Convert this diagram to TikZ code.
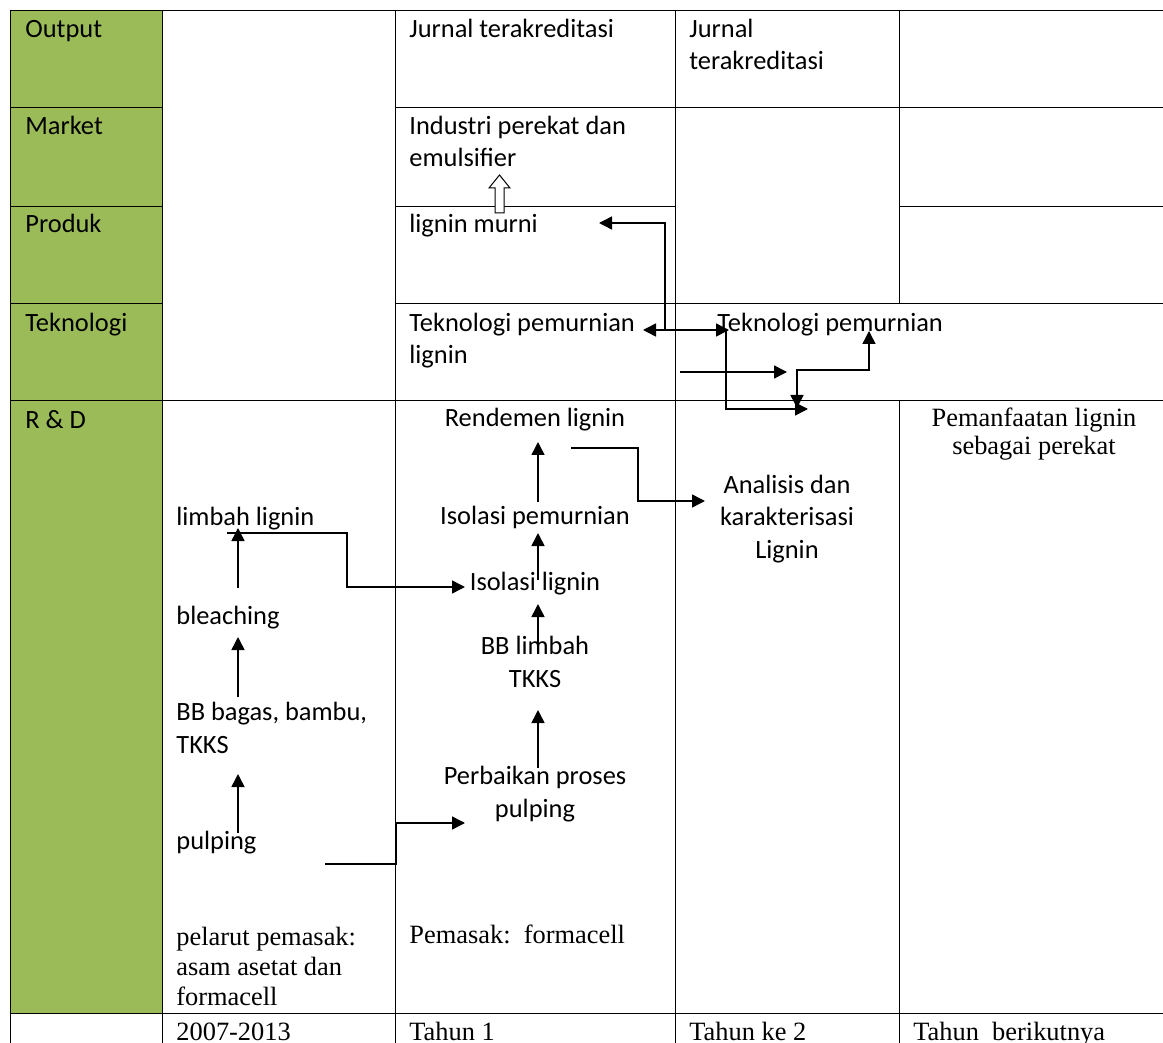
\documentclass[tikz,border=0pt]{standalone}
\usepackage{fontspec}
\setmainfont{Liberation Serif}
\newfontfamily\calibri{Carlito}
\usetikzlibrary{arrows.meta}
\definecolor{olive}{HTML}{9BBB59}

\begin{document}
\begin{tikzpicture}[x=0.5pt,y=-0.5pt,
  txt/.style={anchor=base west,inner sep=0pt,align=left,font=\calibri\fontsize{13.2}{16.1}\selectfont},
  ctxt/.style={txt,anchor=base,align=center},
  tms/.style={anchor=base west,inner sep=0pt,align=left,font=\fontsize{13.2}{15}\selectfont},
  rule/.style={line width=0.5pt},
  arr/.style={line width=0.75pt,-{Triangle[length=6.5pt,width=6.5pt]}},
  darr/.style={line width=0.75pt,{Triangle[length=6.5pt,width=6.5pt]}-{Triangle[length=6.5pt,width=6.5pt]}}]
\useasboundingbox (0,0) rectangle (1163,1043);
\clip (0,0) rectangle (1163,1043);
% The table
\fill[olive] (10,11) rectangle (162,1013);
\draw[rule] (10,11) -- (1163,11);
\draw[rule] (10,108) -- (162,108) (395,108) -- (1163,108);
\draw[rule] (10,207) -- (162,207) (395,207) -- (675,207) (899,207) -- (1163,207);
\draw[rule] (10,304) -- (162,304) (395,304) -- (1163,304);
\draw[rule] (10,401) -- (1163,401);
\draw[rule] (10,1013) -- (1163,1013);
\foreach \x in {10,162,395,675} \draw[rule] (\x,11) -- (\x,1043);
\draw[rule] (899,11) -- (899,304) (899,401) -- (899,1043);
% The green column
\node[txt] (out) at (25,38) {Output};
\node[txt] (mkt) at (25,135) {Market};
\node[txt] (prd) at (25,233) {Produk};
\node[txt] (tek) at (25,332) {Teknologi};
\node[txt] (rnd) at (25,429) {R \& D};
% Upper rows (multi-line nodes sit on their last line)
\node[txt] (jur1) at (409,38) {Jurnal terakreditasi};
\node[txt] (jur2) at (689,70) {Jurnal\\terakreditasi};
\node[txt] (ind) at (409,167) {Industri perekat dan\\emulsifier};
\node[txt] (murni) at (409,233) {lignin murni};
\node[txt] (tpl) at (409,364) {Teknologi pemurnian\\lignin};
\node[txt] (tp2) at (717,332) {Teknologi pemurnian};
% R & D row
%     2007-2013
\node[txt] (limbah) at (176,525) {limbah lignin};
\node[txt] (bleach) at (176,624) {bleaching};
\node[txt] (bagas) at (176,753) {BB bagas, bambu,\\TKKS};
\node[txt] (pulp) at (176,849) {pulping};
\node[tms] (pelarut) at (176,1005) {pelarut pemasak:\\asam asetat dan\\formacell};
%     Tahun 1
\node[ctxt] (rend) at (535,427) {Rendemen lignin};
\node[ctxt] (isop) at (535,524) {Isolasi pemurnian};
\node[ctxt] (isol) at (535,590) {Isolasi lignin};
\node[ctxt] (bbtk) at (535,687) {BB limbah\\TKKS};
\node[ctxt] (perb) at (535,817) {Perbaikan proses\\pulping};
\node[tms] (pemasak) at (409,943) {Pemasak:\ \ formacell};
%     Tahun ke 2 and later
\node[ctxt] (anal) at (787,558) {Analisis dan\\karakterisasi\\Lignin};
\node[tms,anchor=base,align=center,font=\fontsize{13.2}{14}\selectfont] (manf) at (1034,455) {Pemanfaatan lignin\\sebagai perekat};
% Bottom row
\node[tms] (y0) at (176,1040) {2007-2013};
\node[tms] (y1) at (409,1040) {Tahun 1};
\node[tms] (y2) at (689,1040) {Tahun ke 2};
\node[tms] (y3) at (913,1040) {Tahun\ \ berikutnya};
% Arrows
\coordinate (a1) at (238,588); \coordinate (b1) at (238,528);
\coordinate (a2) at (238,697); \coordinate (b2) at (238,637);
\coordinate (a3) at (238,833); \coordinate (b3) at (238,774);
\coordinate (a4) at (538,502); \coordinate (b4) at (538,442);
\coordinate (a5) at (538,580); \coordinate (b5) at (538,533);
\coordinate (a6) at (538,653); \coordinate (b6) at (538,604);
\coordinate (a7) at (538,768); \coordinate (b7) at (538,710);
\foreach \i in {1,...,7} \draw[arr] (a\i) -- (b\i);
\coordinate (l1) at (227,533); \coordinate (l2) at (347,587); \coordinate (l3) at (465,587);
\draw[arr] (l1) -| (l2) -- (l3);
\coordinate (p1) at (325,864); \coordinate (p2) at (396,823); \coordinate (p3) at (465,823);
\draw[arr] (p1) -| (p2) -- (p3);
\coordinate (r1) at (571,448); \coordinate (r2) at (638,501); \coordinate (r3) at (705,501);
\draw[arr] (r1) -| (r2) -- (r3);
%     around Teknologi pemurnian
\coordinate (t1) at (665,330); \coordinate (t2) at (599,223);
\draw[arr] (t1) |- (t2);
\coordinate (t3) at (643,330); \coordinate (t4) at (729,330);
\draw[darr] (t3) -- (t4);
\coordinate (t5) at (726,330); \coordinate (t6) at (808,409);
\draw[arr] (t5) |- (t6);
\coordinate (t7) at (680,372); \coordinate (t8) at (787,372);
\draw[arr] (t7) -- (t8);
\coordinate (t9) at (797,408); \coordinate (t10) at (869,331);
\draw[darr] (t9) |- (833,370) -| (t10);
% hollow arrow
\draw[line width=0.5pt,fill=white] (495,213) -- (495,188) -- (489,188) -- (499.5,175) -- (510,188) -- (504,188) -- (504,213) -- cycle;
\end{tikzpicture}
\end{document}
